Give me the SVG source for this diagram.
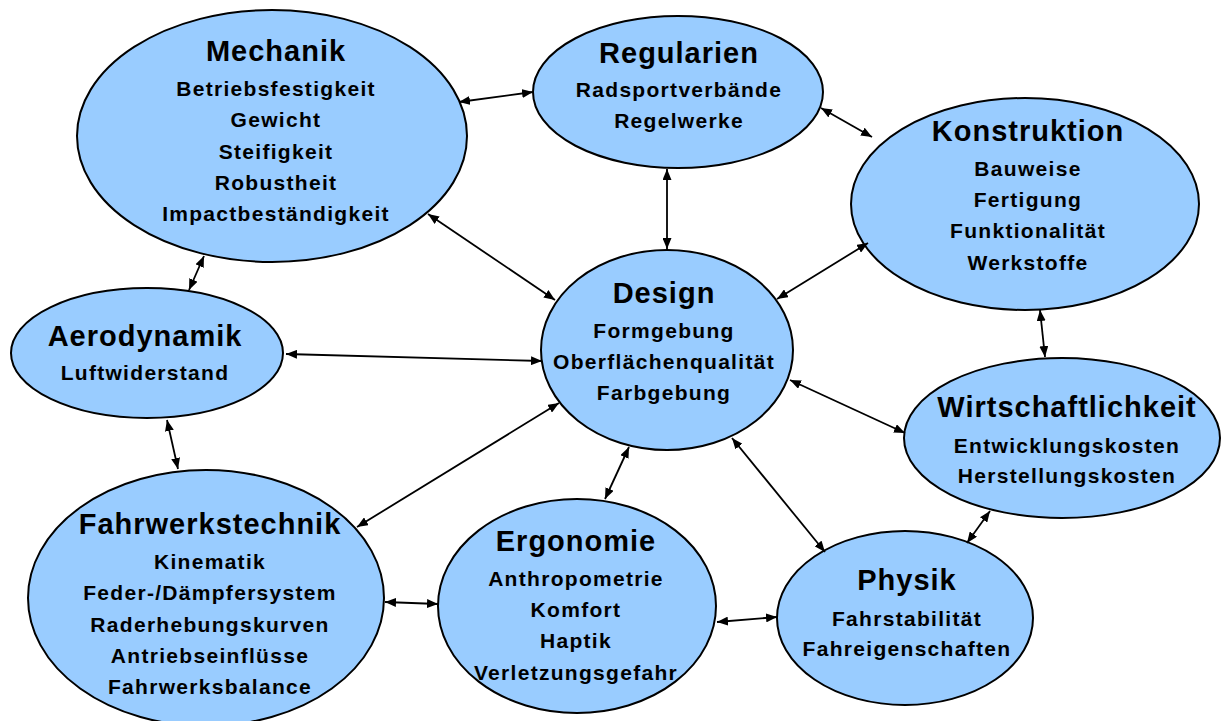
<svg xmlns="http://www.w3.org/2000/svg" width="1222" height="721" viewBox="0 0 1222 721">
<style>
.n{fill:#99CCFF;stroke:#000;stroke-width:2}
.t{font-family:"Liberation Sans",Arial,sans-serif;font-weight:bold;font-size:29px;letter-spacing:1px;text-anchor:middle;fill:#000}
.s{font-family:"Liberation Sans",Arial,sans-serif;font-weight:bold;font-size:21px;letter-spacing:1.3px;text-anchor:middle;fill:#000}
.c line{stroke:#000;stroke-width:1.8;marker-start:url(#a);marker-end:url(#a)}
</style>
<defs>
<marker id="a" markerUnits="userSpaceOnUse" markerWidth="11" markerHeight="9" refX="11" refY="4.5" orient="auto-start-reverse" viewBox="0 0 11 9">
<path d="M0,0 L11,4.5 L0,9 z" fill="#000"/>
</marker>
</defs>
<rect width="1222" height="721" fill="#fff"/>
<g id="mechanik">
<ellipse class="n" cx="272" cy="136" rx="195" ry="126"/>
<text class="t" x="276" y="61">Mechanik</text>
<text class="s" x="276" y="96">Betriebsfestigkeit</text>
<text class="s" x="276" y="127">Gewicht</text>
<text class="s" x="276" y="159">Steifigkeit</text>
<text class="s" x="276" y="190">Robustheit</text>
<text class="s" x="276" y="221">Impactbeständigkeit</text>
</g>
<g id="regularien">
<ellipse class="n" cx="678" cy="92" rx="145" ry="76"/>
<text class="t" x="679" y="63">Regularien</text>
<text class="s" x="679" y="97">Radsportverbände</text>
<text class="s" x="679" y="128">Regelwerke</text>
</g>
<g id="konstruktion">
<ellipse class="n" cx="1025" cy="204" rx="174" ry="106"/>
<text class="t" x="1028" y="141">Konstruktion</text>
<text class="s" x="1028" y="176">Bauweise</text>
<text class="s" x="1028" y="207">Fertigung</text>
<text class="s" x="1028" y="238">Funktionalität</text>
<text class="s" x="1028" y="270">Werkstoffe</text>
</g>
<g id="design">
<ellipse class="n" cx="667" cy="350" rx="126" ry="100"/>
<text class="t" x="664" y="303">Design</text>
<text class="s" x="664" y="338">Formgebung</text>
<text class="s" x="664" y="369">Oberflächenqualität</text>
<text class="s" x="664" y="400">Farbgebung</text>
</g>
<g id="aerodynamik">
<ellipse class="n" cx="147" cy="353" rx="136" ry="65"/>
<text class="t" x="145" y="346">Aerodynamik</text>
<text class="s" x="145" y="380">Luftwiderstand</text>
</g>
<g id="wirtschaftlichkeit">
<ellipse class="n" cx="1062" cy="438" rx="158" ry="80"/>
<text class="t" x="1067" y="417">Wirtschaftlichkeit</text>
<text class="s" x="1067" y="453">Entwicklungskosten</text>
<text class="s" x="1067" y="483">Herstellungskosten</text>
</g>
<g id="fahrwerkstechnik">
<ellipse class="n" cx="206" cy="598" rx="178" ry="128"/>
<text class="t" x="210" y="534">Fahrwerkstechnik</text>
<text class="s" x="210" y="569">Kinematik</text>
<text class="s" x="210" y="600">Feder-/Dämpfersystem</text>
<text class="s" x="210" y="632">Raderhebungskurven</text>
<text class="s" x="210" y="663">Antriebseinflüsse</text>
<text class="s" x="210" y="694">Fahrwerksbalance</text>
</g>
<g id="ergonomie">
<ellipse class="n" cx="577" cy="606" rx="139" ry="107"/>
<text class="t" x="576" y="551">Ergonomie</text>
<text class="s" x="576" y="586">Anthropometrie</text>
<text class="s" x="576" y="617">Komfort</text>
<text class="s" x="576" y="648">Haptik</text>
<text class="s" x="576" y="680">Verletzungsgefahr</text>
</g>
<g id="physik">
<ellipse class="n" cx="905" cy="618" rx="128" ry="87"/>
<text class="t" x="907" y="590">Physik</text>
<text class="s" x="907" y="626">Fahrstabilität</text>
<text class="s" x="907" y="656">Fahreigenschaften</text>
</g>
<g id="connectors" class="c">
<line x1="459" y1="102" x2="533" y2="92"/>
<line x1="821" y1="108" x2="872" y2="137"/>
<line x1="667" y1="169" x2="667" y2="249"/>
<line x1="428" y1="214" x2="555" y2="300"/>
<line x1="868" y1="243" x2="777" y2="299"/>
<line x1="1040" y1="310" x2="1045" y2="357"/>
<line x1="204" y1="256" x2="189" y2="290"/>
<line x1="286" y1="354" x2="542" y2="361"/>
<line x1="167" y1="420" x2="178" y2="469"/>
<line x1="357" y1="527" x2="559" y2="403"/>
<line x1="629" y1="447" x2="605" y2="499"/>
<line x1="732" y1="438" x2="825" y2="552"/>
<line x1="790" y1="380" x2="905" y2="433"/>
<line x1="990" y1="511" x2="967" y2="543"/>
<line x1="385" y1="602" x2="438" y2="604"/>
<line x1="717" y1="622" x2="777" y2="617"/>
</g>
</svg>
